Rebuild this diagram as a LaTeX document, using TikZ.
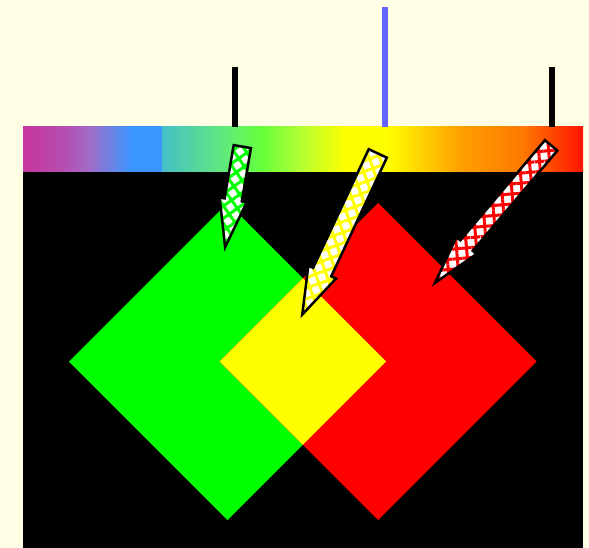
\documentclass[tikz,border=0pt]{standalone}
\usetikzlibrary{shapes.arrows, patterns.meta}

\definecolor{paper}{RGB}{255,255,230}
\definecolor{tickblue}{RGB}{100,100,255}
\definecolor{sqgreen}{RGB}{0,255,0}
\definecolor{sqred}{RGB}{255,0,0}
\definecolor{sqyellow}{RGB}{255,255,0}
% spectrum stops
\definecolor{spa}{RGB}{200,54,154}
\definecolor{spb}{RGB}{180,80,180}
\definecolor{spc}{RGB}{160,110,200}
\definecolor{spd}{RGB}{60,150,255}
\definecolor{spe}{RGB}{70,192,200}
\definecolor{spf}{RGB}{100,240,110}
\definecolor{spg}{RGB}{100,255,60}
\definecolor{sph}{RGB}{180,255,50}
\definecolor{spi}{RGB}{255,255,0}
\definecolor{spj}{RGB}{255,160,0}
\definecolor{spk}{RGB}{255,120,0}
\definecolor{spl}{RGB}{255,20,0}

\begin{document}
\begin{tikzpicture}[x=1pt,y=-1pt,
  marker/.style={line width=6pt},
  hatcharrow/.style n args={3}{single arrow, draw=black, line width=2.5pt,
    inner xsep=0pt, pattern color=#1,
    preaction={fill=white},
    preaction={pattern={Lines[angle=#2,distance=10pt,line width=3pt]},pattern color=#1},
    pattern={Lines[angle=#3,distance=10pt,line width=3pt]}}]
  % ---- page and black field ------------------------------------------------
  \fill[paper] (0,0) rectangle (589,548);
  \fill[black] (23,172) rectangle (583,548);
  % ---- spectrum bar --------------------------------------------------------
  \foreach \xa/\xb/\ca/\cb in {23/67/spa/spb, 67/90/spb/spc, 90/130/spc/spd,
      130/162/spd/spd, 162/233/spe/spf, 233/260/spf/spg, 260/300/spg/sph,
      300/345/sph/spi, 345/387/spi/spi, 387/460/spi/spj, 460/523/spj/spk}
    \shade[left color=\ca, right color=\cb] (\xa,127) rectangle (\xb+0.6,172);
  \shade[left color=spk, right color=spl] (523,127) rectangle (583,172);
  % ---- markers -------------------------------------------------------------
  \draw[marker] (234.5,67) -- (234.5,127);
  \draw[marker,tickblue] (385,7) -- (385,127);
  \draw[marker] (552,67) -- (552,127);
  % ---- squares -------------------------------------------------------------
  \fill[sqgreen] (69,361.5) -- (227.5,203) -- (386,361.5) -- (227.5,520) -- cycle;
  \fill[sqred] (219.5,361.5) -- (378,203) -- (536.5,361.5) -- (378,520) -- cycle;
  \fill[sqyellow] (219.5,361.5) -- (302.75,278.25) -- (386,361.5)
    -- (302.75,444.75) -- cycle;
  % ---- arrows --------------------------------------------------------------
  \node[hatcharrow={sqgreen}{-54.7}{35.3}, minimum height=102pt,
    inner ysep=7.25pt, single arrow head extend=5pt, single arrow tip angle=32,
    rotate=-99.7, anchor=tip] (greenarrow) at (224.2,252.5) {};
  \node[hatcharrow={sqyellow}{-70.1}{19.9}, minimum height=178pt,
    inner ysep=8.5pt, single arrow head extend=5.25pt, single arrow tip angle=36,
    rotate=-115.1, anchor=tip] (yellowarrow) at (300.2,319) {};
  \node[hatcharrow={sqred}{-85.2}{4.8}, minimum height=180pt,
    inner ysep=6.6pt, single arrow head extend=5pt, single arrow tip angle=30,
    rotate=-130.2, anchor=tip] (redarrow) at (431.2,287.3) {};
\end{tikzpicture}
\end{document}
